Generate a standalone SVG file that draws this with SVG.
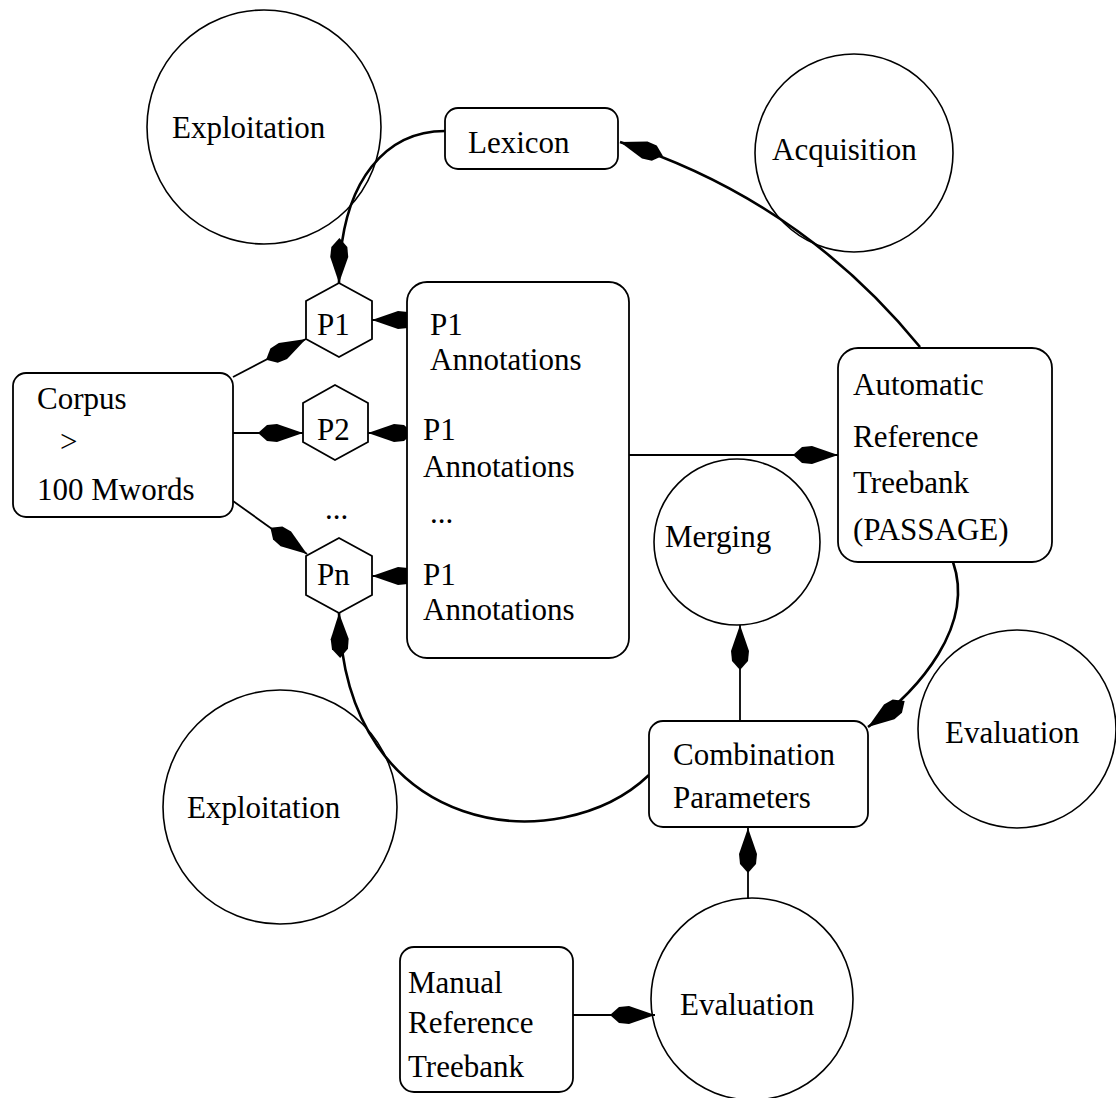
<svg xmlns="http://www.w3.org/2000/svg" width="1116" height="1098" viewBox="0 0 1116 1098">
<style>
  .c { fill: none; stroke: #000; stroke-width: 1.6; }
  .b { fill: #fff; stroke: #000; stroke-width: 1.8; }
  .t { font-family: "Liberation Serif", "Times New Roman", serif; font-size: 31px; fill: #000; }
  .ln { fill: none; stroke: #000; stroke-width: 1.8; }
  .cv { fill: none; stroke: #000; stroke-width: 2.6; }
</style>
<defs>
  <marker id="dia" markerUnits="userSpaceOnUse" markerWidth="50" markerHeight="22" viewBox="0 -11 46 22" refX="45" refY="0" orient="auto">
    <path d="M0,0 L9,-8 L19,-9 L45,0 L19,9 L9,8 Z" fill="#000"/>
  </marker>
</defs>
<rect width="1116" height="1098" fill="#fff"/>

<g id="exploitation-top"><circle class="c" cx="264" cy="127" r="117"/><text class="t" x="172" y="138">Exploitation</text></g>
<g id="acquisition"><circle class="c" cx="854" cy="153" r="99"/><text class="t" x="772" y="160">Acquisition</text></g>
<g id="merging"><circle class="c" cx="737" cy="542" r="83"/><text class="t" x="665" y="547">Merging</text></g>
<g id="evaluation-right"><circle class="c" cx="1017" cy="729" r="99"/><text class="t" x="945" y="743">Evaluation</text></g>
<g id="exploitation-bottom"><circle class="c" cx="280" cy="807" r="117"/><text class="t" x="187" y="818">Exploitation</text></g>
<g id="evaluation-bottom"><circle class="c" cx="752" cy="999" r="101"/><text class="t" x="680" y="1015">Evaluation</text></g>

<g id="connectors">
  <line class="ln" x1="233" y1="377" x2="306" y2="339" marker-end="url(#dia)"/>
  <line class="ln" x1="233" y1="433" x2="303" y2="433" marker-end="url(#dia)"/>
  <line class="ln" x1="233" y1="501" x2="307" y2="554" marker-end="url(#dia)"/>
  <line class="ln" x1="407" y1="320" x2="372" y2="320" marker-end="url(#dia)"/>
  <line class="ln" x1="407" y1="433" x2="368" y2="433" marker-end="url(#dia)"/>
  <line class="ln" x1="407" y1="576" x2="372" y2="576" marker-end="url(#dia)"/>
  <path class="cv" d="M445,131 C390,131 340,175 339,283" marker-end="url(#dia)"/>
  <path class="cv" d="M920,347 Q800,200 620,142" marker-end="url(#dia)"/>
  <line class="ln" x1="629" y1="455" x2="838" y2="455" marker-end="url(#dia)"/>
  <path class="cv" d="M953,562 C975,625 920,690 868,727" marker-end="url(#dia)"/>
  <line class="ln" x1="740" y1="721" x2="740" y2="625" marker-end="url(#dia)"/>
  <path class="cv" d="M649,775 C560,860 345,840 339,613" marker-end="url(#dia)"/>
  <line class="ln" x1="748" y1="899" x2="748" y2="828" marker-end="url(#dia)"/>
  <line class="ln" x1="573" y1="1015" x2="655" y2="1015" marker-end="url(#dia)"/>
</g>

<g id="lexicon"><rect class="b" x="445" y="108" width="173" height="61" rx="13"/><text class="t" x="468" y="153">Lexicon</text></g>
<g id="corpus"><rect class="b" x="13" y="373" width="220" height="144" rx="13"/>
  <text class="t" x="37" y="409">Corpus</text><text class="t" x="60" y="452">&gt;</text><text class="t" x="37" y="500">100 Mwords</text></g>
<g id="p1"><polygon class="b" points="339,283 372,301 372,339 339,357 306,339 306,301"/><text class="t" x="317" y="335">P1</text></g>
<g id="p2"><polygon class="b" points="335,385 368,403 368,442 335,460 303,442 303,403"/><text class="t" x="317" y="440">P2</text></g>
<text class="t" x="325" y="519" font-size="22">...</text>
<g id="pn"><polygon class="b" points="339,538 372,556 372,595 339,613 306,595 306,556"/><text class="t" x="317" y="585">Pn</text></g>
<g id="annotations"><rect class="b" x="407" y="282" width="222" height="376" rx="20"/>
  <text class="t" x="430" y="335">P1</text><text class="t" x="430" y="370">Annotations</text>
  <text class="t" x="423" y="440">P1</text><text class="t" x="423" y="477">Annotations</text>
  <text class="t" x="430" y="523" font-size="22">...</text>
  <text class="t" x="423" y="585">P1</text><text class="t" x="423" y="620">Annotations</text></g>
<g id="automatic"><rect class="b" x="838" y="348" width="214" height="214" rx="20"/>
  <text class="t" x="853" y="395">Automatic</text><text class="t" x="853" y="447">Reference</text>
  <text class="t" x="853" y="493">Treebank</text><text class="t" x="853" y="540">(PASSAGE)</text></g>
<g id="combination"><rect class="b" x="649" y="721" width="219" height="106" rx="14"/>
  <text class="t" x="673" y="765">Combination</text><text class="t" x="673" y="808">Parameters</text></g>
<g id="manual"><rect class="b" x="400" y="947" width="173" height="145" rx="14"/>
  <text class="t" x="408" y="993">Manual</text><text class="t" x="408" y="1033">Reference</text><text class="t" x="408" y="1077">Treebank</text></g>
</svg>
